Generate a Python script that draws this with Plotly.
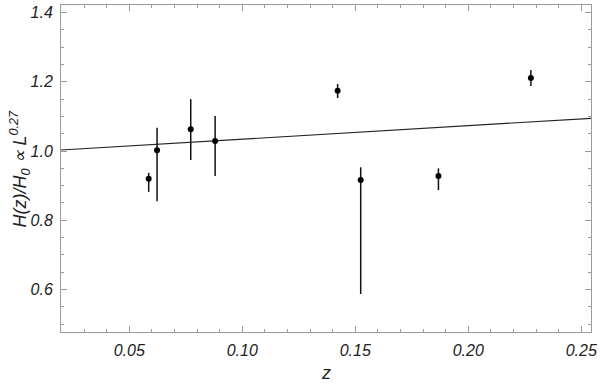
import plotly.graph_objects as go

# measured points, H(z)/H0 with asymmetric errors
z = [0.0586, 0.0623, 0.0772, 0.0880, 0.1422, 0.1524, 0.1868, 0.2277]
h = [0.920, 1.002, 1.063, 1.029, 1.174, 0.916, 0.928, 1.211]
h_hi = [0.937, 1.067, 1.150, 1.101, 1.194, 0.953, 0.950, 1.234]
h_lo = [0.882, 0.855, 0.974, 0.928, 1.153, 0.587, 0.887, 1.188]

# model curve
z_model = [0.0198, 0.2543]
h_model = [1.003, 1.0945]

err_plus = [a - b for a, b in zip(h_hi, h)]
err_minus = [b - a for a, b in zip(h_lo, h)]

font = "Liberation Sans, Arial, Helvetica, sans-serif"
axcol = "#9a9a9a"
txtcol = "#222"

fig = go.Figure()
fig.add_trace(go.Scatter(x=z_model, y=h_model, mode='lines',
                         line=dict(color='#222', width=1.1), showlegend=False))
fig.add_trace(go.Scatter(x=z, y=h, mode='markers',
                         marker=dict(color='black', size=6),
                         error_y=dict(type='data', symmetric=False, array=err_plus,
                                      arrayminus=err_minus, width=0,
                                      color='#111', thickness=1.5),
                         showlegend=False))

axis_common = dict(showline=True, linecolor=axcol, linewidth=1, mirror='allticks',
                   ticks='inside', tickcolor=axcol, ticklen=6, showgrid=False,
                   zeroline=False, automargin=False,
                   tickfont=dict(family=font, size=16, color=txtcol, style='italic'))

fig.update_xaxes(range=[0.0198, 0.2543], tickvals=[0.05, 0.10, 0.15, 0.20, 0.25],
                 tickformat='.2f', ticklabelstandoff=4,
                 minor=dict(dtick=0.01, tick0=0, ticks='inside', ticklen=3, tickcolor=axcol),
                 **axis_common)
fig.update_yaxes(range=[0.477, 1.422], tickvals=[0.6, 0.8, 1.0, 1.2, 1.4],
                 tickformat='.1f', ticklabelstandoff=4,
                 minor=dict(dtick=0.05, tick0=0, ticks='inside', ticklen=3, tickcolor=axcol),
                 **axis_common)

# axis titles as annotations for exact placement
fig.add_annotation(text='z', xref='paper', yref='paper', x=0.5, y=0,
                   yshift=-41, showarrow=False, yanchor='middle',
                   font=dict(family=font, size=18, color=txtcol, style='italic'))
fig.add_annotation(text='H(z)/H<sub>0</sub> \u221d L<sup>0.27</sup>',
                   xref='paper', yref='paper', x=0, y=0.5, xshift=-41,
                   textangle=-90, showarrow=False, xanchor='center',
                   font=dict(family=font, size=18, color=txtcol, style='italic'))

fig.update_layout(width=600, height=384, margin=dict(l=61, r=9, t=5, b=52),
                  plot_bgcolor='white', paper_bgcolor='white')

# drop the page's default body margin so the figure sits at the top-left corner
fig.write_html("out.html", config={'displayModeBar': False},
               post_script="document.body.style.margin='0';")
